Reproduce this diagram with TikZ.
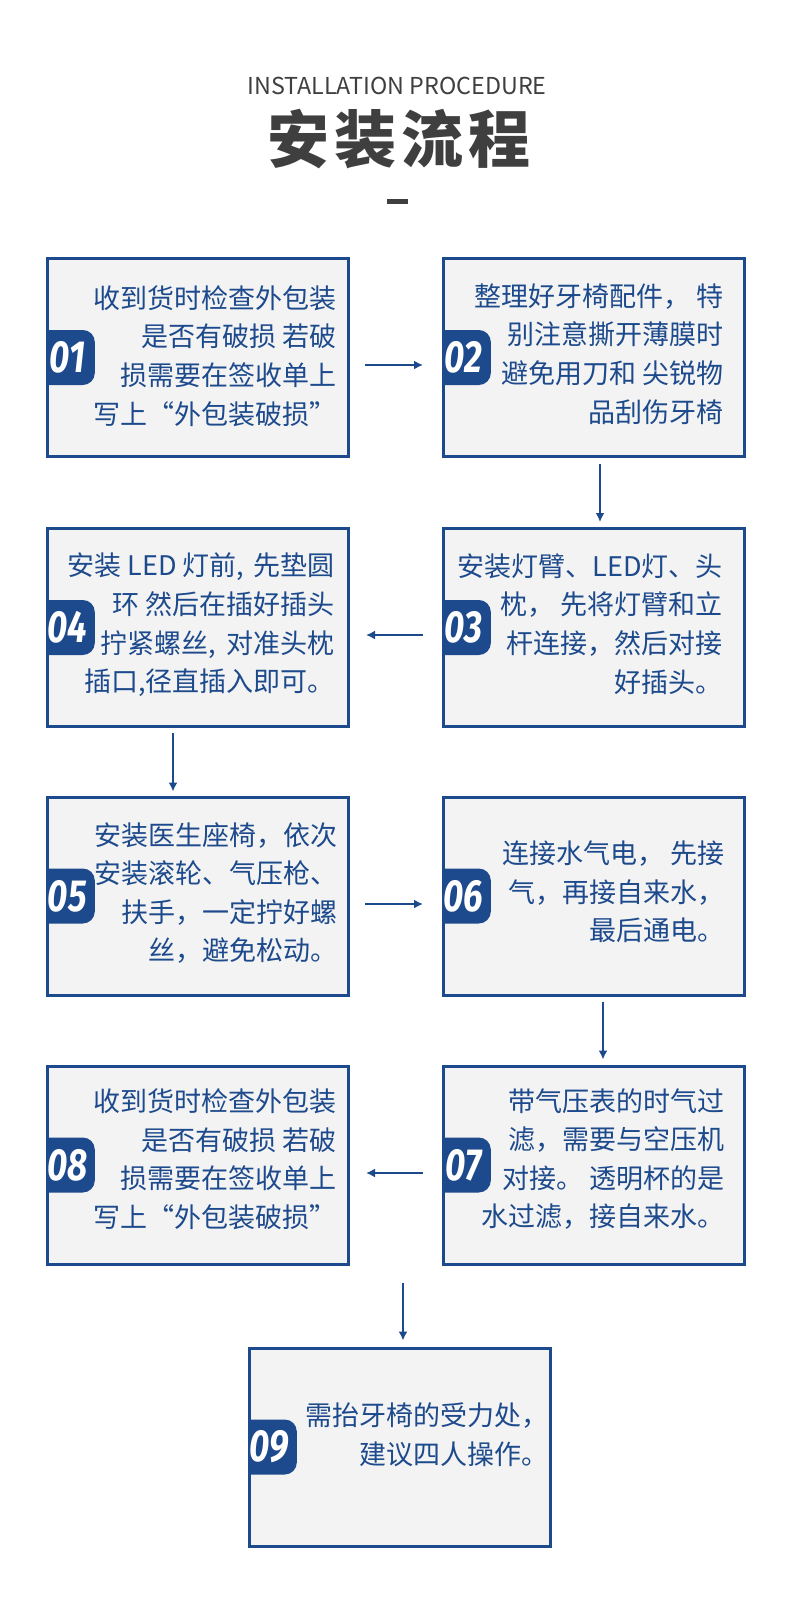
\documentclass[tikz,border=0pt]{standalone}
\usepackage{fontspec}
\usepackage{graphicx}
\usetikzlibrary{arrows.meta,calc}
\newfontfamily\cjk{Noto Sans CJK SC}
\newfontfamily\numfnt{Fira Sans}
\newcommand\fwq[1]{{\addfontfeature{CharacterWidth=Full}#1}}
\definecolor{bc}{HTML}{1D4A8C}
\definecolor{boxfill}{HTML}{F3F3F3}
\definecolor{tgray}{HTML}{3F3F3F}
\newcommand\mkbadge[3]{%
  \begin{scope}
    \clip ($(#2.west)+(0,-45)$) rectangle ($(#2.west)+(100,45)$);
    \node[badge, anchor=east] (#1) at ($(#2.west)+(49,0)$) {\hspace*{6pt}\scalebox{0.78}[1]{#3}};
  \end{scope}}
\begin{document}
\begin{tikzpicture}[x=1pt, y=-1pt,
  box/.style={draw=bc, fill=boxfill, line width=3pt, minimum width=301pt, minimum height=198pt, inner sep=0pt},
  txt/.style={text=bc, font=\cjk\fontsize{27}{38.6}\selectfont, align=right, inner sep=0pt, anchor=east},
  badge/.style={fill=bc, rounded corners=12pt, minimum width=61pt, minimum height=55pt, inner sep=0pt, text=white, font=\numfnt\itshape\bfseries\fontsize{45}{45}\selectfont},
  arr/.style={draw=bc, line width=2pt, -{Latex[length=9pt,width=9pt]}}]
\useasboundingbox (0,0) rectangle (800,1600);
\fill[white] (0,0) rectangle (800,1600);

% title
\node[text=tgray, font=\cjk\fontsize{23.3}{23.3}\selectfont, inner sep=0pt] (eng) at (397,86) {INSTALLATION PROCEDURE};
\node[text=tgray, font=\cjk\bfseries\fontsize{62}{62}\selectfont, inner sep=0pt] (title) at (399,139) {安\kern4.7pt 装\kern4.7pt 流\kern4.7pt 程};
\fill[tgray] (387,199) rectangle (408,204);

% boxes
\node[box] (b1) at (198,357.5) {};
\node[box] (b2) at (594,357.5) {};
\node[box] (b4) at (198,627.5) {};
\node[box] (b3) at (594,627.5) {};
\node[box] (b5) at (198,896) {};
\node[box] (b6) at (594,896) {};
\node[box] (b8) at (198,1165) {};
\node[box] (b7) at (594,1165) {};
\node[box] (b9) at (400,1447) {};

% badges
\mkbadge{n1}{b1}{01}
\mkbadge{n2}{b2}{02}
\mkbadge{n3}{b3}{03}
\mkbadge{n4}{b4}{04}
\mkbadge{n5}{b5}{05}
\mkbadge{n6}{b6}{06}
\mkbadge{n7}{b7}{07}
\mkbadge{n8}{b8}{08}
\mkbadge{n9}{b9}{09}

% texts
\node[txt] (t1) at (337,356) {收到货时检查外包装\\是否有破损 若破\\损需要在签收单上\\写上\fwq{“}外包装破损\fwq{”}};
\node[txt] (t2) at (724,354) {整理好牙椅配件， 特\\别注意撕开薄膜时\\避免用刀和 尖锐物\\品刮伤牙椅};
\node[txt] (t4) at (335,625) {安装 LED 灯前,\kern0.35em 先垫圆\\环 然后在插好插头\\拧紧螺丝,\kern0.4em 对准头枕\\插口,径直插入即可。};
\node[txt] (t3) at (723,624) {安装灯臂、LED灯、头\\枕， 先将灯臂和立\\杆连接，然后对接\\好插头。};
\node[txt] (t5) at (338,893) {安装医生座椅，依次\\安装滚轮、气压枪、\\扶手，一定拧好螺\\丝，避免松动。};
\node[txt] (t6) at (725,892) {连接水气电， 先接\\气，再接自来水，\\最后通电。};
\node[txt] (t7) at (725,1159) {带气压表的时气过\\滤，需要与空压机\\对接。 透明杯的是\\水过滤，接自来水。};
\node[txt] (t8) at (337,1159) {收到货时检查外包装\\是否有破损 若破\\损需要在签收单上\\写上\fwq{“}外包装破损\fwq{”}};
\node[txt] (t9) at (549,1435) {需抬牙椅的受力处，\\建议四人操作。};

% arrows
\draw[arr] ($(b1.east)+(15,7.5)$) -- ($(b2.west)+(-19,7.5)$);
\draw[arr] ($(b2.south)+(6,6)$) -- ($(b3.north)+(6,-5)$);
\draw[arr] ($(b3.west)+(-19,7.5)$) -- ($(b4.east)+(16,7.5)$);
\draw[arr] ($(b4.south)+(-25,5)$) -- ($(b5.north)+(-25,-4)$);
\draw[arr] ($(b5.east)+(15,8)$) -- ($(b6.west)+(-19,8)$);
\draw[arr] ($(b6.south)+(9,5)$) -- ($(b7.north)+(9,-5)$);
\draw[arr] ($(b7.west)+(-19,8)$) -- ($(b8.east)+(16,8)$);
\draw[arr] ($(b8.south -| b9.north)+(3,17)$) -- ($(b9.north)+(3,-6)$);
\end{tikzpicture}
\end{document}
